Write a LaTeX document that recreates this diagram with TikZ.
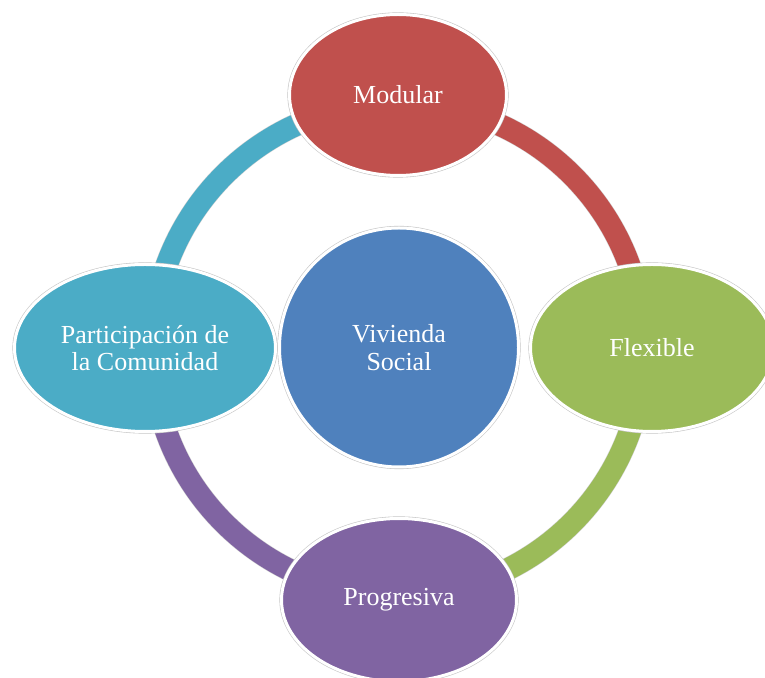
\documentclass[tikz,border=0pt]{standalone}
\usepackage{fontspec}
\setmainfont{Liberation Serif}
\usetikzlibrary{shapes.geometric}
\definecolor{cRed}{HTML}{C0504D}
\definecolor{cGreen}{HTML}{9BBB59}
\definecolor{cPurple}{HTML}{8064A2}
\definecolor{cCyan}{HTML}{4BACC6}
\definecolor{cBlue}{HTML}{4F81BD}
\tikzset{
  bubble/.style={ellipse, inner sep=0pt, align=center, text=white,
    font=\fontsize{26}{27.5}\selectfont,
    preaction={draw=black!22, line width=4.2pt},
    draw=white, line width=3pt},
  band/.style={line width=22pt, preaction={draw=black!18, line width=23pt}},
}
\begin{document}
\begin{tikzpicture}[x=1pt,y=1pt]
\useasboundingbox (0,0) rectangle (765,677);
\clip (0,0) rectangle (765,677);
\fill[white] (0,0) rectangle (765,677);
\coordinate (rc) at (398,328);
% ring segments
\draw[band, cRed]    ([shift={(90:246)}]rc) arc[start angle=90, end angle=0, radius=246];
\draw[band, cGreen]  ([shift={(0:246)}]rc) arc[start angle=0, end angle=-90, radius=246];
\draw[band, cPurple] ([shift={(-90:246)}]rc) arc[start angle=-90, end angle=-180, radius=246];
\draw[band, cCyan]   ([shift={(180:246)}]rc) arc[start angle=180, end angle=90, radius=246];
% nodes
\node[bubble, fill=cBlue, minimum width=239, minimum height=239] (vs) at (399,329.5) {Vivienda\\Social};
\node[bubble, fill=cRed, minimum width=217, minimum height=161] (mod) at (398,582) {Modular};
\node[bubble, fill=cGreen, minimum width=243, minimum height=167] (flex) at (652,329) {Flexible};
\node[bubble, fill=cPurple, minimum width=235, minimum height=163] (prog) at (399,77) {Progresiva};
\node[bubble, fill=cCyan, minimum width=261, minimum height=167] (part) at (145,329) {Participación de\\la Comunidad};
\end{tikzpicture}
\end{document}
